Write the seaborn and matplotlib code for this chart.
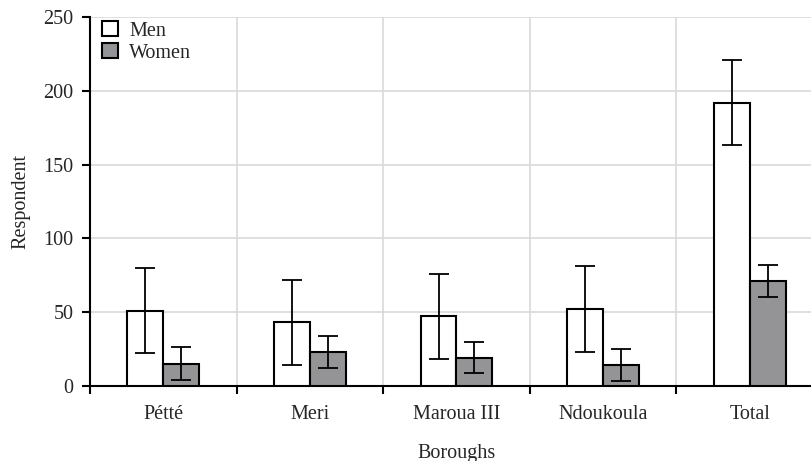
import numpy as np
import pandas as pd
import matplotlib
matplotlib.use("Agg")
import matplotlib.pyplot as plt
import seaborn as sns
from matplotlib.patches import Patch
from matplotlib.ticker import FixedLocator, NullFormatter

boroughs = ["Pétté", "Meri", "Maroua III", "Ndoukoula", "Total"]
men = [51, 43, 47, 52, 192]
women = [15, 23, 19, 14, 71]
men_err = [29, 29, 29, 29, 29]
women_err = [11, 11, 10.6, 11, 10.6]
sexes = ["Men", "Women"]
colors = {"Men": "#ffffff", "Women": "#939498"}

df = pd.DataFrame({
    "Borough": boroughs * 2,
    "Sex": ["Men"] * len(boroughs) + ["Women"] * len(boroughs),
    "Count": men + women,
    "Err": men_err + women_err,
})

sns.set_theme(style="white")
plt.rcParams["font.family"] = ["Liberation Serif", "DejaVu Serif"]
FS = 14.5

fig = plt.figure(figsize=(8.12, 4.61), dpi=100)
ax = fig.add_axes([0.1108, 0.1633, 1.0135 - 0.1108, 0.7994])

sns.barplot(data=df, x="Borough", y="Count", hue="Sex", order=boroughs,
            hue_order=sexes, palette=colors, width=0.49, gap=0,
            errorbar=None, edgecolor="black", linewidth=1.5, ax=ax,
            legend=False, zorder=3)

# error bars at bar centres
for cont, sex in zip(ax.containers, sexes):
    errs = df[df["Sex"] == sex]["Err"].to_numpy()
    for bar, e in zip(cont, errs):
        xc = bar.get_x() + bar.get_width() / 2
        ax.errorbar(xc, bar.get_height(), yerr=e, color="black",
                    elinewidth=1.3, capsize=7, capthick=1.3, zorder=4)

ax.set_xlim(-0.5, 4.5)
ax.set_ylim(0, 250)
ax.set_yticks([0, 50, 100, 150, 200, 250])

# major ticks at category boundaries, labels at centres
ax.xaxis.set_major_locator(FixedLocator(np.arange(-0.5, 5.0, 1.0)))
ax.xaxis.set_major_formatter(NullFormatter())
ax.xaxis.set_minor_locator(FixedLocator(np.arange(0, 5)))
ax.set_xticklabels(boroughs, minor=True)
ax.tick_params(axis="x", which="minor", length=0, pad=14, labelsize=FS)
ax.tick_params(axis="x", which="major", length=6, width=1.5, color="black",
               direction="out", bottom=True)
ax.tick_params(axis="y", length=6, width=1.5, color="black", direction="out",
               left=True, labelsize=FS, pad=6)

ax.grid(True, axis="both", which="major", color="#d9d9d9", linewidth=1.2, zorder=0)
ax.set_axisbelow(True)

for s in ["top", "right"]:
    ax.spines[s].set_visible(False)
for s in ["left", "bottom"]:
    ax.spines[s].set_color("black")
    ax.spines[s].set_linewidth(1.5)

ax.set_xlabel("Boroughs", fontsize=FS, labelpad=14)
ax.set_ylabel("Respondent", fontsize=FS, labelpad=9)

handles = [Patch(facecolor=colors[s], edgecolor="black", linewidth=1.5, label=s)
           for s in sexes]
ax.legend(handles=handles, loc="upper left", frameon=False, fontsize=FS,
          handlelength=0.8, handleheight=0.8, handletextpad=0.55,
          labelspacing=0.12, borderaxespad=0.3, bbox_to_anchor=(-0.003, 1.028))

fig.savefig("out.png", dpi=100)
